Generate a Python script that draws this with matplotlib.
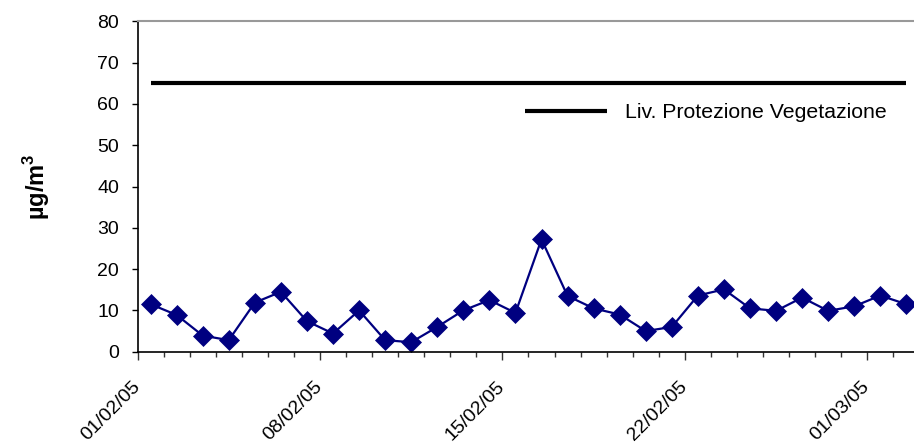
import numpy as np
import pandas as pd
import matplotlib
matplotlib.use("Agg")
import matplotlib.pyplot as plt

plt.rcParams['font.family'] = ['Liberation Sans', 'DejaVu Sans']
plt.rcParams['mathtext.fontset'] = 'custom'
plt.rcParams['mathtext.rm'] = 'Liberation Sans:bold'
plt.rcParams['mathtext.bf'] = 'Liberation Sans:bold'

# daily values, 01/02/05 - 02/03/05
days = pd.date_range('2005-02-01', periods=30, freq='D')
day_labels = [d.strftime('%d/%m/%y') for d in days]
values = [11.5, 8.9, 3.9, 2.8, 11.9, 14.5, 7.4, 4.4, 10.0, 2.8,
          2.3, 6.0, 10.0, 12.5, 9.4, 27.2, 13.5, 10.5, 9.0, 5.0,
          6.0, 13.6, 15.1, 10.5, 9.9, 13.1, 9.9, 11.0, 13.6, 11.5]
soglia = [65] * len(values)
label_step = 7

x = np.arange(len(values))

fig = plt.figure(figsize=(9.14, 4.46), dpi=100)
ax = fig.add_axes([0.1505, 0.2114, 0.8554, 0.7408])

ax.plot(x, soglia, color='black', lw=3, label='Liv. Protezione Vegetazione',
        solid_capstyle='butt')
ax.plot(x, values, color='#000080', lw=1.6, marker='D', ms=10,
        mec='#000080', mew=0.5)

ax.set_xlim(-0.5, len(values) - 0.5)
ax.set_ylim(0, 80)
ax.set_yticks(np.arange(0, 81, 10))

bounds = np.arange(len(values) + 1) - 0.5
ax.set_xticks(bounds[::label_step])
ax.set_xticklabels(day_labels[::label_step], rotation=45, ha='right',
                   va='center', rotation_mode='anchor', fontsize=14)
ax.set_xticks(bounds, minor=True)
ax.tick_params(axis='x', which='major', direction='out', length=6,
               width=1, color='#333333', pad=17)
ax.tick_params(axis='x', which='minor', direction='out', length=3.5,
               width=1, color='#333333')
ax.tick_params(axis='y', direction='out', length=4.3, width=1,
               labelsize=14, pad=9)

ax.spines['right'].set_visible(False)
ax.spines['top'].set_color('#999999')
ax.spines['top'].set_linewidth(1.5)
ax.spines['left'].set_linewidth(1.2)
ax.spines['bottom'].set_linewidth(1.2)

ax.set_ylabel(r'$\mathrm{µg/m}^{3}$', fontsize=17)
ax.yaxis.set_label_coords(-0.110, 0.5)

ax.legend(loc='center left', bbox_to_anchor=(0.5744, 0.747),
          bbox_transform=fig.transFigure, frameon=False, fontsize=15.3,
          handlelength=3.87, handletextpad=0.85, borderpad=0, borderaxespad=0)

fig.savefig('out.png', dpi=100)
